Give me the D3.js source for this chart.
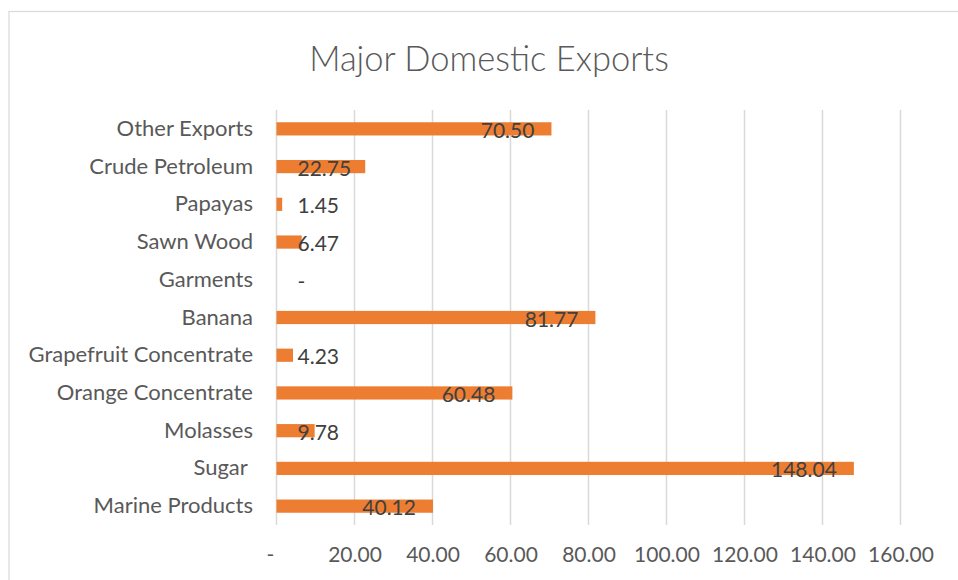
<!DOCTYPE html>
<html>
<head>
<meta charset="utf-8">
<script src="https://cdn.jsdelivr.net/npm/d3@7"></script>
<style>
  body { margin: 0; background: #fff; }
  text { font-family: Lato, "Open Sans", sans-serif; }
</style>
</head>
<body>
<div id="chart"></div>
<script>
// data, bottom to top as in the picture
var categories = ["Marine Products", "Sugar ", "Molasses", "Orange Concentrate",
    "Grapefruit Concentrate", "Banana", "Garments", "Sawn Wood", "Papayas",
    "Crude Petroleum", "Other Exports"];
var values = [40.12, 148.04, 9.78, 60.48, 4.23, 81.77, 0, 6.47, 1.45, 22.75, 70.50];
var xTicks = [0, 20, 40, 60, 80, 100, 120, 140, 160];
var chartTitle = "Major Domestic Exports";

var data = categories.map(function (c, i) { return { name: c, value: values[i] }; });

const W = 958, H = 580;
const margin = { top: 110, right: 57.5, bottom: 55, left: 276.5 };
const width = W - margin.left - margin.right;
const height = H - margin.top - margin.bottom;

const svg = d3.select("#chart").append("svg")
    .attr("width", W)
    .attr("height", H);

// chart border (runs off the right and bottom of the picture)
svg.append("rect")
    .attr("x", 9).attr("y", 11.5)
    .attr("width", W + 20).attr("height", H + 20)
    .attr("fill", "none")
    .attr("stroke", "#d9d9d9")
    .attr("stroke-width", 1.2);

svg.append("text")
    .attr("x", 489)
    .attr("y", 71)
    .attr("text-anchor", "middle")
    .style("font-size", "34.5px")
    .style("font-weight", 300)
    .style("fill", "#595959")
    .text(chartTitle);

const g = svg.append("g")
    .attr("transform", `translate(${margin.left},${margin.top})`);

const xScale = d3.scaleLinear()
    .domain([0, 160])
    .range([0, width]);

// top category first so reverse the domain
const yScale = d3.scaleBand()
    .domain(categories.slice().reverse())
    .range([0, height])
    .paddingInner(0.65)
    .paddingOuter(0.325);

function fmt(v) {
    return v === 0 ? "-" : d3.format(",.2f")(v);
}

// gridlines
g.selectAll(".grid")
    .data(xTicks)
    .join("line")
    .attr("class", "grid")
    .attr("x1", d => xScale(d))
    .attr("x2", d => xScale(d))
    .attr("y1", 0)
    .attr("y2", height)
    .attr("stroke", "#d9d9d9")
    .attr("stroke-width", 1.5);

// x axis labels
const xAxis = g.append("g")
    .attr("transform", `translate(0,${height})`)
    .call(d3.axisBottom(xScale).tickValues(xTicks).tickFormat(fmt).tickSize(0).tickPadding(22));
xAxis.select(".domain").remove();
xAxis.selectAll("text")
    .style("font-family", "Lato, sans-serif")
    .style("font-size", "21px")
    .style("fill", "#595959")
    .attr("dx", d => d === 0 ? -6.5 : 0);

// y axis labels
const yAxis = g.append("g")
    .call(d3.axisLeft(yScale).tickSize(0).tickPadding(23.5));
yAxis.select(".domain").remove();
yAxis.selectAll("text")
    .style("font-family", "Lato, sans-serif")
    .style("font-size", "22px")
    .style("fill", "#595959")
    .style("white-space", "pre");

// bars
g.selectAll(".bar")
    .data(data)
    .join("rect")
    .attr("class", "bar")
    .attr("x", xScale(0))
    .attr("y", d => yScale(d.name))
    .attr("width", d => xScale(d.value) - xScale(0))
    .attr("height", yScale.bandwidth())
    .attr("fill", "#ed7d31");

// data labels: inside end, but never starting before a minimum left edge
const minLeft = 21;
const labels = g.selectAll(".label")
    .data(data)
    .join("text")
    .attr("class", "label")
    .attr("y", d => yScale(d.name) + yScale.bandwidth() / 2 + 0.5)
    .attr("dominant-baseline", "central")
    .attr("text-anchor", "end")
    .style("font-size", "21px")
    .style("fill", "#404040")
    .text(d => fmt(d.value));

labels.attr("x", function (d) {
    const w = this.getComputedTextLength();
    return Math.max(xScale(d.value) - 17, minLeft + w);
});
</script>
</body>
</html>
